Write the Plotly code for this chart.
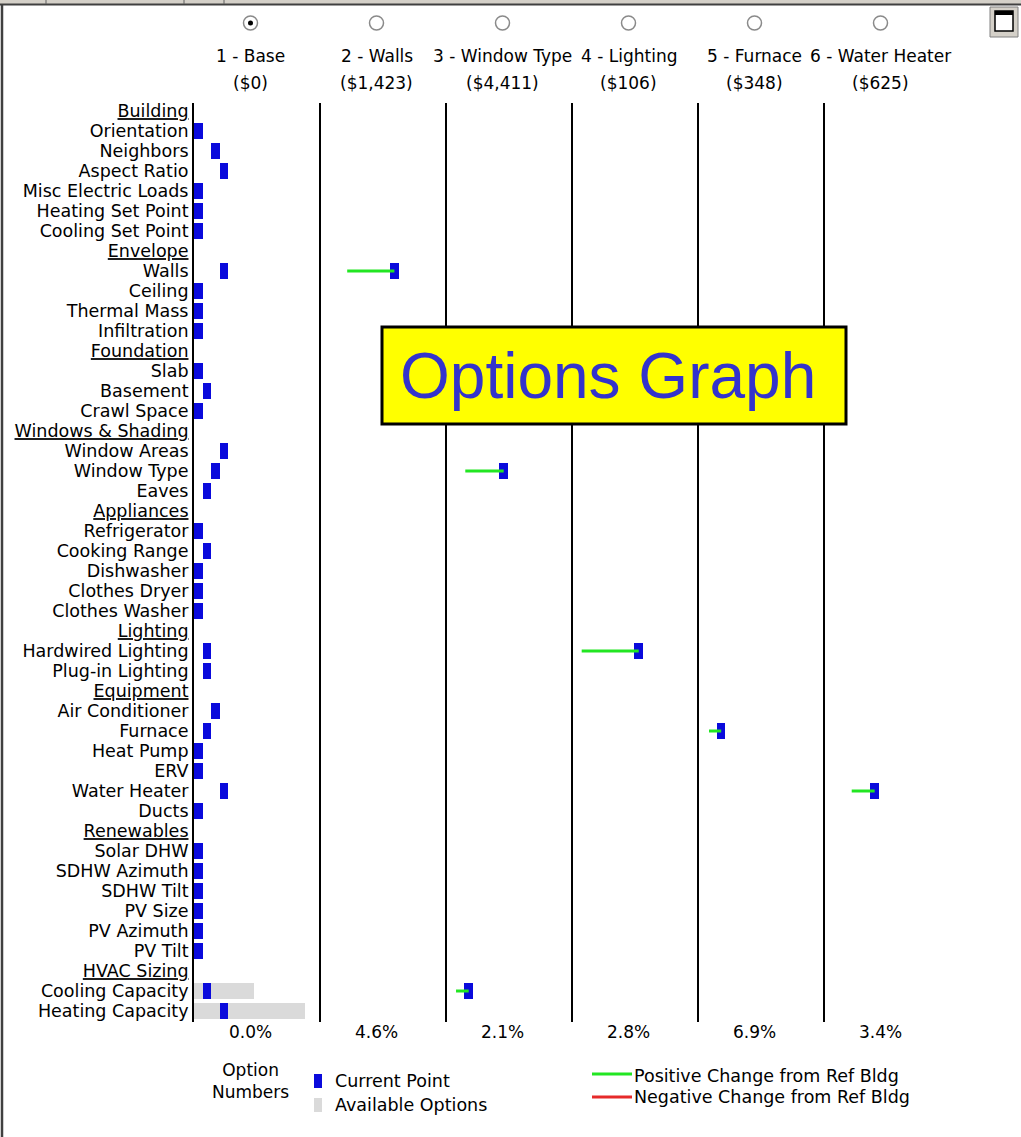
import plotly.graph_objects as go

# ---------------- data ----------------
rows = ["Building", "Orientation", "Neighbors", "Aspect Ratio", "Misc Electric Loads",
        "Heating Set Point", "Cooling Set Point",
        "Envelope", "Walls", "Ceiling", "Thermal Mass", "Infiltration",
        "Foundation", "Slab", "Basement", "Crawl Space",
        "Windows & Shading", "Window Areas", "Window Type", "Eaves",
        "Appliances", "Refrigerator", "Cooking Range", "Dishwasher", "Clothes Dryer", "Clothes Washer",
        "Lighting", "Hardwired Lighting", "Plug-in Lighting",
        "Equipment", "Air Conditioner", "Furnace", "Heat Pump", "ERV", "Water Heater", "Ducts",
        "Renewables", "Solar DHW", "SDHW Azimuth", "SDHW Tilt", "PV Size", "PV Azimuth", "PV Tilt",
        "HVAC Sizing", "Cooling Capacity", "Heating Capacity"]
headers = ["Building", "Envelope", "Foundation", "Windows & Shading", "Appliances",
           "Lighting", "Equipment", "Renewables", "HVAC Sizing"]

# current option number of each row in the base run (None for group headers)
base_option = [None, 1, 3, 4, 1, 1, 1,
               None, 4, 1, 1, 1,
               None, 1, 2, 1,
               None, 4, 3, 2,
               None, 1, 2, 1, 1, 1,
               None, 2, 2,
               None, 3, 2, 1, 1, 4, 1,
               None, 1, 1, 1, 1, 1, 1,
               None, 2, 4]

avail_rows = ["Cooling Capacity", "Heating Capacity"]
avail_counts = [7, 13]

col_titles = ["1 - Base", "2 - Walls", "3 - Window Type", "4 - Lighting", "5 - Furnace", "6 - Water Heater"]
col_costs = ["($0)", "($1,423)", "($4,411)", "($106)", "($348)", "($625)"]
col_pcts = ["0.0%", "4.6%", "2.1%", "2.8%", "6.9%", "3.4%"]

# option changes shown in columns 2..6 (column index, row, from-option, to-option)
change_col = [1, 2, 2, 3, 4, 5]
change_row = ["Walls", "Window Type", "Cooling Capacity", "Hardwired Lighting", "Furnace", "Water Heater"]
change_from = [3.2, 2.27, 1.18, 1.14, 1.29, 3.26]
change_to = [8.75, 6.79, 2.67, 7.85, 2.73, 5.96]

# ---------------- layout helpers ----------------
FIG_W, FIG_H = 1021, 1137
L, R, T, B = 194, 71, 103, 115
PW, PH = FIG_W - L - R, FIG_H - T - B
UNIT_PX = 8.5
NCOL = 6
COLW = PW / NCOL / UNIT_PX          # column width in option units
CENTER = 56.5 / UNIT_PX              # column label centre offset in option units

def px_x(p):
    return (p - L) / PW

def px_y(p):
    return (FIG_H - B - p) / PH

ridx = {r: i for i, r in enumerate(rows)}
FONT = "DejaVu Sans"
BLUE = "#0a0adc"
GRAY = "#dadada"
GREEN = "#22e622"
RED = "#e62a2a"

fig = go.Figure()

# available options (gray)
fig.add_trace(go.Bar(
    y=[ridx[r] for r in avail_rows], x=avail_counts, base=[0] * len(avail_rows),
    orientation="h", width=0.78, marker=dict(color=GRAY, line=dict(width=0)),
    showlegend=False, hoverinfo="skip"))

# green change lines
for c, r, f, t in zip(change_col, change_row, change_from, change_to):
    fig.add_trace(go.Scatter(
        x=[c * COLW + f, c * COLW + t], y=[ridx[r], ridx[r]], mode="lines",
        line=dict(color=GREEN, width=3), showlegend=False, hoverinfo="skip"))

# current points: base column + changed columns
cur_y, cur_base = [], []
for i, v in enumerate(base_option):
    if v is not None:
        cur_y.append(i)
        cur_base.append(v - 1)
for c, r, t in zip(change_col, change_row, change_to):
    cur_y.append(ridx[r])
    cur_base.append(c * COLW + t - 0.5)
fig.add_trace(go.Bar(
    y=cur_y, x=[1] * len(cur_y), base=cur_base, orientation="h", width=0.8,
    marker=dict(color=BLUE, line=dict(width=0)), showlegend=False, hoverinfo="skip"))

ticktext = [f"<u>{r}</u>" if r in headers else r for r in rows]

shapes = []
annotations = []

# column separator lines
for k in range(1, NCOL):
    shapes.append(dict(type="line", xref="x", yref="paper", x0=k * COLW, x1=k * COLW,
                       y0=0, y1=1, line=dict(color="black", width=2)))

# column headings, radio buttons, percentages
for k in range(NCOL):
    cx = k * COLW + CENTER
    annotations.append(dict(xref="x", yref="paper", x=cx, y=px_y(56), text=col_titles[k],
                            showarrow=False, font=dict(family=FONT, size=17, color="black"),
                            xanchor="center", yanchor="middle"))
    annotations.append(dict(xref="x", yref="paper", x=cx, y=px_y(83), text=col_costs[k],
                            showarrow=False, font=dict(family=FONT, size=17, color="black"),
                            xanchor="center", yanchor="middle"))
    annotations.append(dict(xref="x", yref="paper", x=cx, y=px_y(1032), text=col_pcts[k],
                            showarrow=False, font=dict(family=FONT, size=17, color="black"),
                            xanchor="center", yanchor="middle"))
    shapes.append(dict(type="circle", xref="x", yref="paper", xsizemode="pixel", ysizemode="pixel",
                       xanchor=cx, yanchor=px_y(23), x0=-7, x1=7, y0=-7, y1=7,
                       fillcolor="white", line=dict(color="#8a8a8a", width=1.5)))
    if k == 0:
        shapes.append(dict(type="circle", xref="x", yref="paper", xsizemode="pixel", ysizemode="pixel",
                           xanchor=cx, yanchor=px_y(23), x0=-2.5, x1=2.5, y0=-2.5, y1=2.5,
                           fillcolor="black", line=dict(width=0)))

# Options Graph box
shapes.append(dict(type="rect", xref="paper", yref="paper", x0=px_x(382), x1=px_x(846),
                   y0=px_y(424), y1=px_y(327), fillcolor="#ffff00",
                   line=dict(color="black", width=3)))
annotations.append(dict(xref="paper", yref="paper", x=px_x(608), y=px_y(376), text="Options Graph",
                        showarrow=False, font=dict(family="Liberation Sans", size=64, color="#3333cc"),
                        xanchor="center", yanchor="middle"))

# legend
LEG = 17.5
annotations.append(dict(xref="paper", yref="paper", x=px_x(250), y=px_y(1081), text="Option<br>Numbers",
                        showarrow=False, font=dict(family=FONT, size=17, color="black"),
                        xanchor="center", yanchor="middle"))
shapes.append(dict(type="rect", xref="paper", yref="paper", x0=px_x(314), x1=px_x(322),
                   y0=px_y(1088), y1=px_y(1074), fillcolor=BLUE, line=dict(width=0)))
shapes.append(dict(type="rect", xref="paper", yref="paper", x0=px_x(314), x1=px_x(322),
                   y0=px_y(1112), y1=px_y(1098), fillcolor=GRAY, line=dict(width=0)))
annotations.append(dict(xref="paper", yref="paper", x=px_x(333), y=px_y(1081), text="Current Point",
                        showarrow=False, font=dict(family=FONT, size=LEG, color="black"),
                        xanchor="left", yanchor="middle"))
annotations.append(dict(xref="paper", yref="paper", x=px_x(333), y=px_y(1105), text="Available Options",
                        showarrow=False, font=dict(family=FONT, size=LEG, color="black"),
                        xanchor="left", yanchor="middle"))
shapes.append(dict(type="line", xref="paper", yref="paper", x0=px_x(592), x1=px_x(632),
                   y0=px_y(1074), y1=px_y(1074), line=dict(color=GREEN, width=3)))
shapes.append(dict(type="line", xref="paper", yref="paper", x0=px_x(592), x1=px_x(632),
                   y0=px_y(1097), y1=px_y(1097), line=dict(color=RED, width=3)))
annotations.append(dict(xref="paper", yref="paper", x=px_x(632), y=px_y(1076),
                        text="Positive Change from Ref Bldg",
                        showarrow=False, font=dict(family=FONT, size=LEG, color="black"),
                        xanchor="left", yanchor="middle"))
annotations.append(dict(xref="paper", yref="paper", x=px_x(632), y=px_y(1097),
                        text="Negative Change from Ref Bldg",
                        showarrow=False, font=dict(family=FONT, size=LEG, color="black"),
                        xanchor="left", yanchor="middle"))

# window frame decorations
shapes.append(dict(type="rect", xref="paper", yref="paper", x0=px_x(0), x1=px_x(FIG_W),
                   y0=px_y(4), y1=px_y(0), fillcolor="#d4d0c8", line=dict(width=0)))
shapes.append(dict(type="line", xref="paper", yref="paper", x0=px_x(0), x1=px_x(FIG_W),
                   y0=px_y(4.5), y1=px_y(4.5), line=dict(color="#404040", width=2)))
for sx in [46, 184, 224]:
    shapes.append(dict(type="line", xref="paper", yref="paper", x0=px_x(sx), x1=px_x(sx),
                       y0=px_y(4), y1=px_y(0), line=dict(color="#606060", width=1)))
shapes.append(dict(type="line", xref="paper", yref="paper", x0=px_x(2), x1=px_x(2),
                   y0=px_y(FIG_H), y1=px_y(4), line=dict(color="#404040", width=2.5)))
shapes.append(dict(type="rect", xref="paper", yref="paper", x0=px_x(990), x1=px_x(1018),
                   y0=px_y(37), y1=px_y(7), fillcolor="#d4d0c8", line=dict(color="#808080", width=1)))
shapes.append(dict(type="rect", xref="paper", yref="paper", x0=px_x(995), x1=px_x(1013),
                   y0=px_y(31), y1=px_y(11), fillcolor="white", line=dict(color="black", width=1.5)))
shapes.append(dict(type="rect", xref="paper", yref="paper", x0=px_x(995), x1=px_x(1013),
                   y0=px_y(15), y1=px_y(11), fillcolor="black", line=dict(width=0)))

fig.update_layout(
    width=FIG_W, height=FIG_H, autosize=False,
    margin=dict(l=L, r=R, t=T, b=B, pad=0),
    paper_bgcolor="white", plot_bgcolor="white",
    barmode="overlay", bargap=0,
    showlegend=False,
    xaxis=dict(range=[0, NCOL * COLW], visible=False, showgrid=False, zeroline=False, fixedrange=True),
    yaxis=dict(range=[45.55, -0.4], tickmode="array", tickvals=list(range(len(rows))),
               ticktext=ticktext, showgrid=False, zeroline=False, ticks="",
               showline=True, linecolor="black", linewidth=2,
               tickfont=dict(family=FONT, size=17.5, color="black"), ticklabelstandoff=0,
               fixedrange=True),
    shapes=shapes, annotations=annotations,
)

fig.write_html("out.html", config={"displayModeBar": False},
               post_script="document.body.style.margin='0';")
